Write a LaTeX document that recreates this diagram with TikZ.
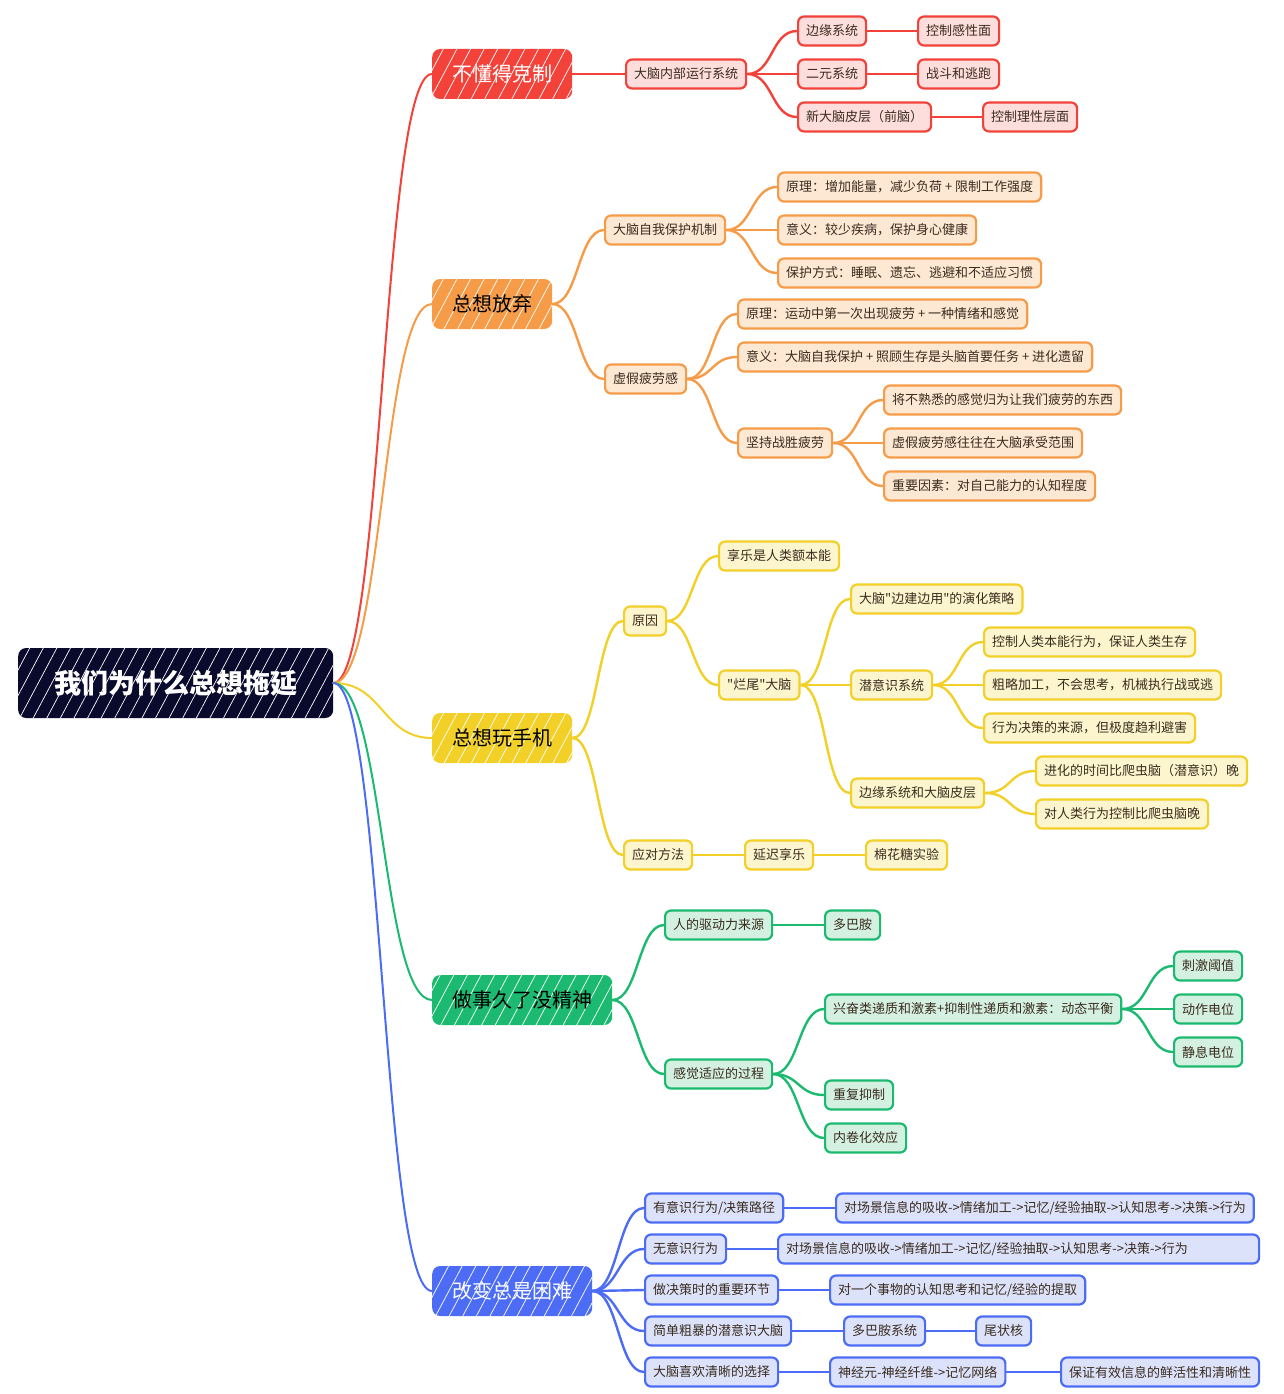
\documentclass[tikz,border=0pt]{standalone}
\usepackage{fontspec}
\setmainfont{Noto Sans CJK SC}[Ligatures=TeXOff]
\definecolor{RootNavy}    {RGB}{10,10,44}
\definecolor{BranchRed}   {RGB}{243,66,58}
\definecolor{BranchOrange}{RGB}{246,156,72}
\definecolor{BranchYellow}{RGB}{242,208,40}
\definecolor{BranchGreen} {RGB}{28,186,112}
\definecolor{BranchBlue}  {RGB}{76,108,246}
\definecolor{PaleRed}     {RGB}{253,222,220}
\definecolor{PaleOrange}  {RGB}{253,232,212}
\definecolor{PaleYellow}  {RGB}{253,245,205}
\definecolor{PaleGreen}   {RGB}{212,240,225}
\definecolor{PaleBlue}    {RGB}{220,226,250}
\definecolor{TextDark}    {RGB}{58,44,30}
\usetikzlibrary{patterns.meta}

\tikzset{
  hatch/.style={postaction={pattern={Lines[angle=62,distance=12pt,line width=0.7pt]},
                            pattern color=white,fill opacity=0.3}},
  root/.style={fill=RootNavy,text=white,rounded corners=8pt,anchor=west,
               minimum width=315pt,minimum height=70pt,
               font=\fontsize{27}{32}\selectfont\bfseries,hatch},
  topic/.style={rounded corners=8pt,anchor=west,inner xsep=20pt,inner ysep=0pt,
                minimum height=50pt,font=\fontsize{20}{24}\selectfont,hatch},
  leaf/.style={draw,line width=2.2pt,rounded corners=6pt,anchor=west,
               inner xsep=8pt,inner ysep=0pt,minimum height=29pt,
               text=TextDark,font=\fontsize{13}{15}\selectfont},
  redleaf/.style={leaf,draw=BranchRed,fill=PaleRed},
  orangeleaf/.style={leaf,draw=BranchOrange,fill=PaleOrange},
  yellowleaf/.style={leaf,draw=BranchYellow,fill=PaleYellow},
  greenleaf/.style={leaf,draw=BranchGreen,fill=PaleGreen},
  blueleaf/.style={leaf,draw=BranchBlue,fill=PaleBlue},
  link/.style={line width=2.4pt,line cap=round},
  curvy/.style={out=0,in=180,distance=#1},
  curvy/.default=26pt
}

\begin{document}
\begin{tikzpicture}[x=1pt,y=-1pt]
  \useasboundingbox[fill=white](0,0) rectangle (1284,1394);

  %% Root
  \node[root] (why) at (18,683) {我们为什么总想拖延};

  %% Branch 1: red
  \node[topic,fill=BranchRed,text=white] (restraint) at (432,74) {不懂得克制};
  \node[redleaf] (brainsys)  at (625,74)  {大脑内部运行系统};
  \node[redleaf] (limbic)    at (797,31)  {边缘系统};
  \node[redleaf] (dual)      at (797,74)  {二元系统};
  \node[redleaf] (neocortex) at (797,117) {新大脑皮层（前脑）};
  \node[redleaf] (emotional) at (917,31)  {控制感性面};
  \node[redleaf] (fight)     at (917,74)  {战斗和逃跑};
  \node[redleaf] (rational)  at (982,117) {控制理性层面};

  %% Branch 2: orange
  \node[topic,fill=BranchOrange,text=black] (giveup) at (432,304) {总想放弃};
  \node[orangeleaf] (selfprotect) at (604,230) {大脑自我保护机制};
  \node[orangeleaf] (sp1) at (777,187) {原理：增加能量，减少负荷 + 限制工作强度};
  \node[orangeleaf] (sp2) at (777,230) {意义：较少疾病，保护身心健康};
  \node[orangeleaf] (sp3) at (777,273) {保护方式：睡眠、遗忘、逃避和不适应习惯};
  \node[orangeleaf] (fakefatigue) at (604,379) {虚假疲劳感};
  \node[orangeleaf] (ff1) at (737,314) {原理：运动中第一次出现疲劳 + 一种情绪和感觉};
  \node[orangeleaf] (ff2) at (737,357) {意义：大脑自我保护 + 照顾生存是头脑首要任务 + 进化遗留};
  \node[orangeleaf] (persist) at (737,443) {坚持战胜疲劳};
  \node[orangeleaf] (ps1) at (883,400) {将不熟悉的感觉归为让我们疲劳的东西};
  \node[orangeleaf] (ps2) at (883,443) {虚假疲劳感往往在大脑承受范围};
  \node[orangeleaf] (ps3) at (883,486) {重要因素：对自己能力的认知程度};

  %% Branch 3: yellow
  \node[topic,fill=BranchYellow,text=black] (phone) at (432,738) {总想玩手机};
  \node[yellowleaf] (cause)      at (623,621)  {原因};
  \node[yellowleaf] (pleasure)   at (718,556)  {享乐是人类额本能};
  \node[yellowleaf] (unfinished) at (718,685)  {"烂尾"大脑};
  \node[yellowleaf] (strategy)   at (850,599)  {大脑"边建边用"的演化策略};
  \node[yellowleaf] (subcon)     at (850,685)  {潜意识系统};
  \node[yellowleaf] (sc1)        at (983,642)  {控制人类本能行为，保证人类生存};
  \node[yellowleaf] (sc2)        at (983,685)  {粗略加工，不会思考，机械执行战或逃};
  \node[yellowleaf] (sc3)        at (983,728)  {行为决策的来源，但极度趋利避害};
  \node[yellowleaf] (limcortex)  at (850,793)  {边缘系统和大脑皮层};
  \node[yellowleaf] (lc1)        at (1035,771) {进化的时间比爬虫脑（潜意识）晚};
  \node[yellowleaf] (lc2)        at (1035,814) {对人类行为控制比爬虫脑晚};
  \node[yellowleaf] (cope)       at (623,855)  {应对方法};
  \node[yellowleaf] (delay)      at (744,855)  {延迟享乐};
  \node[yellowleaf] (marsh)      at (865,855)  {棉花糖实验};

  %% Branch 4: green
  \node[topic,fill=BranchGreen,text=black] (tired) at (432,1000) {做事久了没精神};
  \node[greenleaf] (drive)       at (664,925)   {人的驱动力来源};
  \node[greenleaf] (dopamine)    at (824,925)   {多巴胺};
  \node[greenleaf] (adapt)       at (664,1074)  {感觉适应的过程};
  \node[greenleaf] (balance)     at (824,1009)  {兴奋类递质和激素+抑制性递质和激素：动态平衡};
  \node[greenleaf] (threshold)   at (1173,966)  {刺激阈值};
  \node[greenleaf] (actionpot)   at (1173,1009) {动作电位};
  \node[greenleaf] (resting)     at (1173,1052) {静息电位};
  \node[greenleaf] (inhibit)     at (824,1095)  {重复抑制};
  \node[greenleaf] (involution)  at (824,1138)  {内卷化效应};

  %% Branch 5: blue
  \node[topic,fill=BranchBlue,text=white] (change) at (432,1291) {改变总是困难};
  \node[blueleaf] (conscious)   at (644,1208) {有意识行为/决策路径};
  \node[blueleaf] (path1)       at (835,1208) {对场景信息的吸收->情绪加工->记忆/经验抽取->认知思考->决策->行为};
  \node[blueleaf] (unconscious) at (644,1249) {无意识行为};
  \node[blueleaf,text width=465pt,align=left] (path2) at (777,1249)
       {对场景信息的吸收->情绪加工->记忆/经验抽取->认知思考->决策->行为};
  \node[blueleaf] (keystep)     at (644,1290) {做决策时的重要环节};
  \node[blueleaf] (extract)     at (829,1290) {对一个事物的认知思考和记忆/经验的提取};
  \node[blueleaf] (crude)       at (644,1331) {简单粗暴的潜意识大脑};
  \node[blueleaf] (dasys)       at (843,1331) {多巴胺系统};
  \node[blueleaf] (caudate)     at (975,1331) {尾状核};
  \node[blueleaf] (clear)       at (644,1372) {大脑喜欢清晰的选择};
  \node[blueleaf] (network)     at (829,1372) {神经元-神经纤维->记忆网络};
  \node[blueleaf] (vivid)       at (1060,1372) {保证有效信息的鲜活性和清晰性};

  %% Connectors
  \foreach \t/\c in {restraint/BranchRed,giveup/BranchOrange,phone/BranchYellow,
                     tired/BranchGreen,change/BranchBlue}
    \draw[link,\c,line width=2pt] (why.east) to[curvy=50pt] (\t.west);
  \foreach \a/\b in {restraint/brainsys,brainsys/limbic,brainsys/dual,brainsys/neocortex,
                     limbic/emotional,dual/fight,neocortex/rational}
    \draw[link,BranchRed] (\a.east) to[curvy] (\b.west);
  \foreach \a/\b in {giveup/selfprotect,giveup/fakefatigue,selfprotect/sp1,selfprotect/sp2,
                     selfprotect/sp3,fakefatigue/ff1,fakefatigue/ff2,fakefatigue/persist,
                     persist/ps1,persist/ps2,persist/ps3}
    \draw[link,BranchOrange] (\a.east) to[curvy] (\b.west);
  \foreach \a/\b in {phone/cause,phone/cope,cause/pleasure,cause/unfinished,
                     unfinished/strategy,unfinished/subcon,unfinished/limcortex,
                     subcon/sc1,subcon/sc2,subcon/sc3,limcortex/lc1,limcortex/lc2,
                     cope/delay,delay/marsh}
    \draw[link,BranchYellow] (\a.east) to[curvy] (\b.west);
  \foreach \a/\b in {tired/drive,tired/adapt,drive/dopamine,adapt/balance,adapt/inhibit,
                     adapt/involution,balance/threshold,balance/actionpot,balance/resting}
    \draw[link,BranchGreen] (\a.east) to[curvy] (\b.west);
  \foreach \a/\b in {change/conscious,change/unconscious,change/keystep,change/crude,
                     change/clear,conscious/path1,unconscious/path2,keystep/extract,
                     crude/dasys,dasys/caudate,clear/network,network/vivid}
    \draw[link,BranchBlue] (\a.east) to[curvy] (\b.west);
\end{tikzpicture}
\end{document}
